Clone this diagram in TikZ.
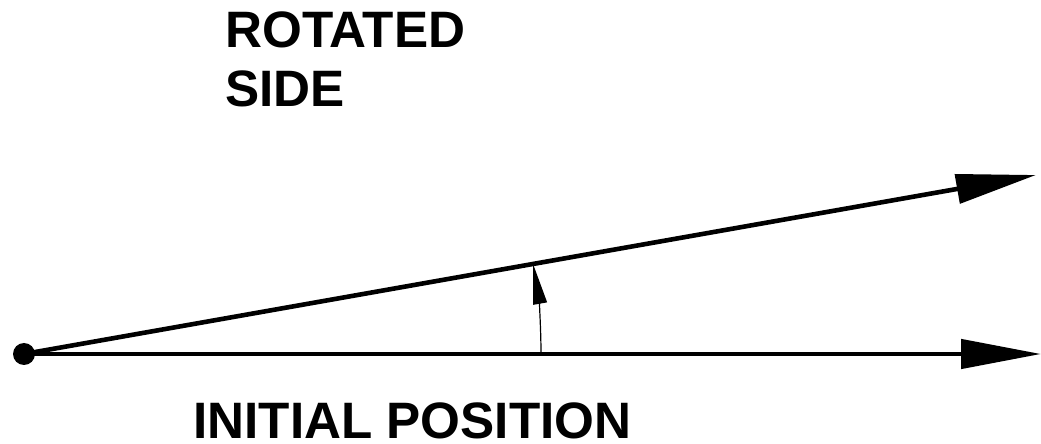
\documentclass[tikz,border=0pt]{standalone}
\usepackage{fontspec}
\setmainfont{Liberation Sans}
\usetikzlibrary{arrows.meta}

\begin{document}
\begin{tikzpicture}[
            x=0.5pt, y=-0.5pt,
            label/.style={font=\bfseries\fontsize{25.6}{29.5}\selectfont, inner sep=0pt, align=left},
            side/.style={line width=2.3pt, -{Triangle[length=40pt, width=14.5pt]}},
            turn/.style={line width=0.6pt, -{Triangle[length=20pt, width=7pt]}}
        ]
        \useasboundingbox (0,0) rectangle (1041,444);
        % --- vertex and the two sides ---
        \node[circle, fill, inner sep=0pt, minimum size=11pt] (O) at (24,354) {};
        \coordinate (I) at (1041,354);
        \coordinate (R) at (1036,175);
        \draw[side] (O.center)--(I);
        \draw[side] (O.center)--(R);
        % --- rotation arc ---
        \coordinate (A) at (541,354);
        \draw[turn] (A) arc[start angle=0, end angle=-10, radius=517];
        % --- labels ---
        \node[label, anchor=north west] (rot) at (225,11) {ROTATED\\SIDE};
        \node[label, anchor=base west] (init) at (193,438) {INITIAL POSITION};
\end{tikzpicture}
\end{document}
